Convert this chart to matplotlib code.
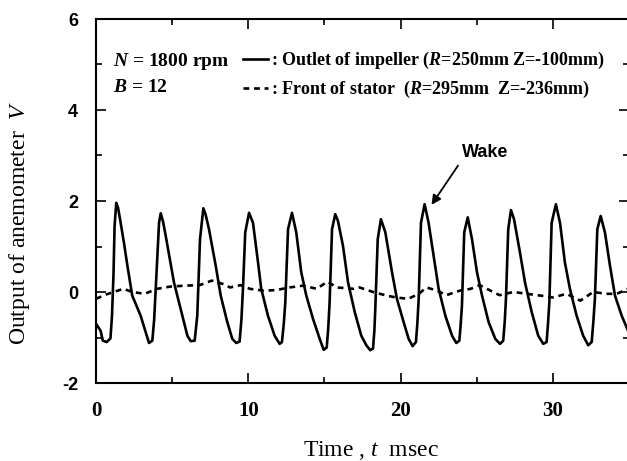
import matplotlib
matplotlib.use("Agg")
import matplotlib.pyplot as plt
from matplotlib.ticker import MultipleLocator

plt.rcParams['font.family'] = ['Liberation Serif', 'DejaVu Serif']
plt.rcParams['axes.unicode_minus'] = False
plt.rcParams['mathtext.fontset'] = 'custom'
plt.rcParams['mathtext.rm'] = 'Liberation Serif'
plt.rcParams['mathtext.it'] = 'Liberation Serif:italic'
plt.rcParams['mathtext.bf'] = 'Liberation Serif:bold'
plt.rcParams['mathtext.bfit'] = 'Liberation Serif:bold:italic'

# outlet of impeller (solid)
t_outlet = [0.00, 0.30, 0.45, 0.70, 0.95, 1.05, 1.15, 1.22, 1.33, 1.45, 1.62, 1.85, 2.06,
            2.38, 2.93, 3.26, 3.48, 3.70, 3.82, 3.92, 4.14, 4.25, 4.40, 4.58, 5.12, 5.67,
            6.00, 6.22, 6.48, 6.65, 6.83, 7.05, 7.20, 7.42, 7.86, 8.19, 8.62, 8.95, 9.21,
            9.43, 9.55, 9.65, 9.80, 10.05, 10.31, 10.64, 10.85, 11.29, 11.73, 12.06, 12.21,
            12.33, 12.43, 12.61, 12.87, 13.15, 13.48, 13.81, 14.25, 14.69, 14.95, 15.15,
            15.25, 15.34, 15.50, 15.71, 15.89, 16.22, 16.55, 16.99, 17.42, 17.75, 18.01,
            18.19, 18.28, 18.34, 18.50, 18.71, 19.00, 19.44, 19.76, 20.20, 20.53, 20.79,
            21.01, 21.10, 21.19, 21.34, 21.58, 21.84, 22.17, 22.50, 22.94, 23.38, 23.66,
            23.86, 23.95, 24.03, 24.18, 24.41, 24.69, 25.02, 25.35, 25.78, 26.22, 26.53,
            26.74, 26.84, 26.92, 27.07, 27.25, 27.45, 27.84, 28.17, 28.61, 29.04, 29.37,
            29.59, 29.68, 29.77, 29.92, 30.20, 30.47, 30.79, 31.12, 31.56, 31.99, 32.32,
            32.55, 32.66, 32.76, 32.92, 33.14, 33.42, 33.75, 34.08, 34.52, 35.00]
v_outlet = [-0.70, -0.85, -1.07, -1.10, -1.02, -0.52, 0.40, 1.45, 1.96, 1.85, 1.52, 1.05, 0.58,
            -0.08, -0.52, -0.88, -1.12, -1.07, -0.60, 0.07, 1.52, 1.73, 1.55, 1.23, 0.21, -0.52,
            -0.96, -1.08, -1.07, -0.52, 1.16, 1.84, 1.70, 1.38, 0.58, -0.08, -0.66, -1.03, -1.12,
            -1.09, -0.60, 0.07, 1.31, 1.74, 1.52, 0.65, 0.07, -0.52, -0.96, -1.14, -1.10,
            -0.70, -0.23, 1.38, 1.74, 1.31, 0.43, -0.08, -0.59, -1.03, -1.27, -1.22,
            -0.80, -0.23, 1.38, 1.71, 1.56, 1.01, 0.21, -0.44, -0.96, -1.17, -1.28,
            -1.24, -0.85, -0.37, 1.16, 1.60, 1.31, 0.43, -0.15, -0.66, -1.03, -1.19,
            -1.10, -0.70, -0.15, 1.52, 1.93, 1.52, 0.79, 0.07, -0.52, -0.96, -1.12,
            -1.07, -0.70, -0.30, 1.31, 1.64, 1.16, 0.43, -0.08, -0.66, -1.03, -1.14,
            -1.07, -0.65, -0.15, 1.38, 1.80, 1.60, 0.87, 0.21, -0.44, -0.96, -1.14,
            -1.10, -0.70, -0.23, 1.52, 1.93, 1.52, 0.65, 0.07, -0.52, -0.96, -1.17,
            -1.10, -0.65, -0.15, 1.38, 1.67, 1.31, 0.58, -0.08, -0.52, -0.90]

# front of stator (dashed)
t_stator = [0.0, 0.7, 1.8, 2.4, 3.2, 4.0, 4.9, 5.9, 6.8, 7.6, 8.4, 8.8, 9.5, 10.1, 11.0,
            11.8, 12.7, 13.6, 14.5, 15.2, 15.8, 16.9, 17.3, 18.2, 19.1, 19.7, 20.5, 21.2,
            21.7, 22.4, 23.0, 23.9, 24.6, 25.2, 25.9, 26.5, 27.4, 28.3, 29.2, 30.0, 30.9,
            31.8, 32.65, 33.5, 34.2, 35.0]
v_stator = [-0.15, -0.05, 0.07, 0.00, -0.04, 0.07, 0.12, 0.14, 0.15, 0.25, 0.17, 0.10, 0.15,
            0.07, 0.03, 0.04, 0.10, 0.14, 0.07, 0.23, 0.10, 0.07, 0.10, 0.00, -0.08, -0.12,
            -0.15, -0.04, 0.10, 0.03, -0.07, 0.03, 0.07, 0.15, 0.03, -0.07, 0.00, -0.04,
            -0.08, -0.12, -0.04, -0.19, 0.00, -0.04, -0.04, 0.08]

label_outlet = ': Outlet of impeller ($\\mathbfit{R}$=250mm Z=-100mm)'
label_stator = ': Front of stator  ($\\mathbfit{R}$=295mm  Z=-236mm)'
wake_peak = (21.98, 1.89)

fig = plt.figure(figsize=(6.27, 4.61), dpi=100)
ax = fig.add_axes([96 / 627, 1 - 383 / 461, 533 / 627, 364 / 461])

ax.plot(t_outlet, v_outlet, color='black', lw=1.9, label=label_outlet)
ax.plot(t_stator, v_stator, color='black', lw=1.9, ls=(0, (2.2, 1.8)), label=label_stator)

ax.set_xlim(0, 35)
ax.set_ylim(-2, 6)
ax.xaxis.set_major_locator(MultipleLocator(10))
ax.xaxis.set_minor_locator(MultipleLocator(5))
ax.yaxis.set_major_locator(MultipleLocator(2))
ax.yaxis.set_minor_locator(MultipleLocator(1))
ax.tick_params(which='both', direction='in', top=True, right=True, width=1.2)
ax.tick_params(which='major', length=7)
ax.tick_params(which='minor', length=4)
ax.tick_params(axis='x', pad=13)
ax.tick_params(axis='y', pad=13)
for s in ax.spines.values():
    s.set_linewidth(1.5)

for lab in ax.get_xticklabels():
    lab.set_fontfamily('Liberation Serif')
    lab.set_fontweight('bold')
    lab.set_fontsize(15)
for lab in ax.get_yticklabels():
    lab.set_fontfamily('Liberation Sans')
    lab.set_fontweight('bold')
    lab.set_fontsize(13)

ax.set_xlabel('Time , $t$  msec', fontsize=17)
ax.xaxis.set_label_coords(0.515, -0.155)
ax.set_ylabel('Output of anemometer  $V$', fontsize=17)
ax.yaxis.set_label_coords(-0.12, 0.44)

ax.text(113 / 627, 1 - 61 / 461, '$\\mathbfit{N}$ = 1800 rpm', transform=fig.transFigure,
        fontsize=14, fontweight='bold', va='center', ha='left')
ax.text(113 / 627, 1 - 88 / 461, '$\\mathbfit{B}$ = 12', transform=fig.transFigure,
        fontsize=14, fontweight='bold', va='center', ha='left')

leg = ax.legend(loc='upper left', bbox_to_anchor=(243 / 627, 1 - 50 / 461),
                bbox_transform=fig.transFigure, frameon=False, borderpad=0,
                borderaxespad=0, handlelength=1.4, handletextpad=0.15,
                labelspacing=0.45, prop={'family': 'Liberation Serif', 'weight': 'bold', 'size': 13})

ax.annotate('Wake', xy=wake_peak, xytext=(24.0, 2.89), fontsize=13, fontweight='bold',
            fontfamily='Liberation Sans', ha='left', va='bottom',
            arrowprops=dict(arrowstyle='-|>', color='black', lw=1.3, mutation_scale=14,
                            relpos=(0.0, 0.0), shrinkA=2, shrinkB=1))

fig.savefig('out.png', dpi=100)
